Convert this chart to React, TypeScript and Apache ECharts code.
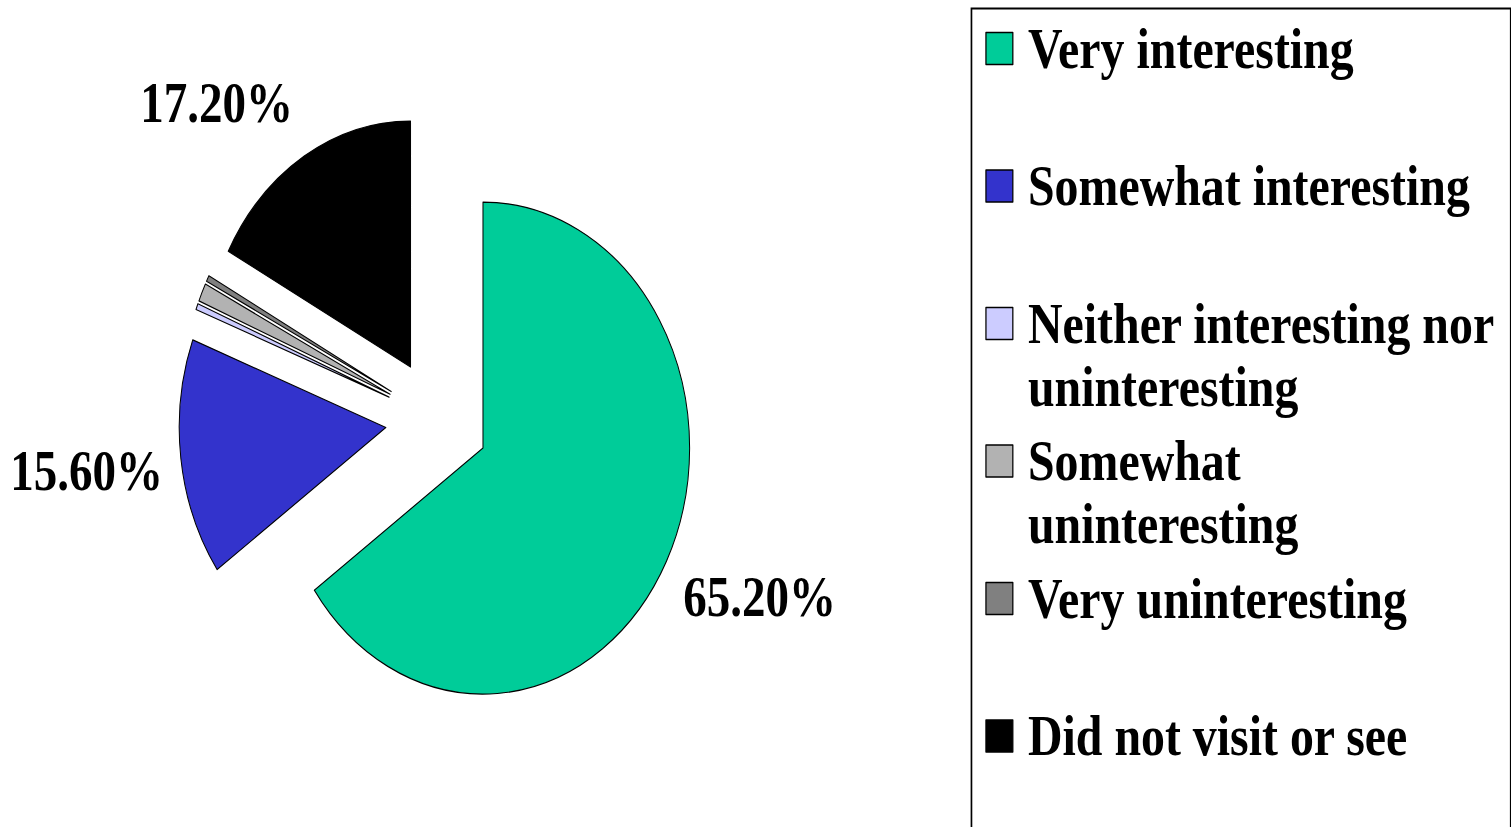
import React, { useEffect, useRef } from "react";
import * as echarts from "echarts";

// ---- data ----
const categories = [
  "Very interesting",
  "Somewhat interesting",
  "Neither interesting nor uninteresting",
  "Somewhat uninteresting",
  "Very uninteresting",
  "Did not visit or see",
];
const legendLabels = [
  "Very interesting",
  "Somewhat interesting",
  "Neither interesting nor\nuninteresting",
  "Somewhat\nuninteresting",
  "Very uninteresting",
  "Did not visit or see",
];
const values = [65.2, 15.6, 0.4, 1.2, 0.4, 17.2];
const showLabel = [true, true, false, false, false, true];
const colors = ["#00CC99", "#3333CC", "#CCCCFF", "#B2B2B2", "#808080", "#000000"];

// ---- layout (pre-squeeze coordinates) ----
const S = 0.84; // horizontal squeeze of the original picture
const W = 1511 / S;
const H = 827;
const labelLen = [78.6, 102, 0, 0, 0, 62];
const labelLen2 = [-55, -85, 0, 0, 0, -23.6];
const legendRowCenters = [48.5, 186, 323.5, 461, 598.5, 736];
const LH = 63;
const FONT = "'Liberation Serif', 'Times New Roman', serif";

function buildOption() {
  const data = categories.map((name, i) => ({
    name,
    value: values[i],
    selected: true,
    itemStyle: { color: colors[i] },
    select: { itemStyle: { color: colors[i], borderColor: "#000", borderWidth: 1.2 } },
    label: { show: showLabel[i], distanceToLabelLine: 5 },
    labelLine: { show: false, length: labelLen[i], length2: labelLen2[i] },
  }));

  const legends = categories.map((name, i) => {
    const twoLine = legendLabels[i].indexOf("\n") >= 0;
    return {
      data: [name],
      orient: "vertical",
      left: 1173,
      top: twoLine ? legendRowCenters[i] - 1.5 * LH : legendRowCenters[i] - LH / 2,
      padding: 0,
      itemWidth: 32,
      itemHeight: 32,
      icon: "rect",
      selectedMode: false,
      itemStyle: { borderColor: "#000", borderWidth: 1.5 },
      // a blank first line keeps the marker level with the first text line
      formatter: (n: string) => {
        const t = legendLabels[categories.indexOf(n)];
        return t.indexOf("\n") >= 0 ? " \n" + t : t;
      },
      textStyle: {
        fontFamily: FONT,
        fontWeight: "bold",
        fontSize: 57,
        lineHeight: LH,
        color: "#000",
        padding: [0, 0, 0, 13],
      },
    };
  });

  return {
    animation: false,
    backgroundColor: "#fff",
    legend: legends,
    graphic: [
      {
        type: "rect",
        left: 1154,
        top: 6,
        shape: { width: 642, height: 900 },
        style: { fill: "none", stroke: "#000", lineWidth: 2 },
        silent: true,
      },
    ],
    series: [
      {
        type: "pie",
        center: [437.1 / S, 419.8],
        radius: 246,
        startAngle: 90,
        clockwise: true,
        selectedMode: "multiple",
        selectedOffset: 61.5,
        avoidLabelOverlap: false,
        minShowLabelAngle: 0,
        itemStyle: { borderColor: "#000", borderWidth: 1.2 },
        emphasis: { disabled: true },
        label: {
          position: "outside",
          formatter: (p: any) => Number(p.value).toFixed(2) + "%",
          fontFamily: FONT,
          fontWeight: "bold",
          fontSize: 56,
          color: "#000",
        },
        data,
      },
    ],
  };
}

export default function App() {
  const ref = useRef<HTMLDivElement>(null);
  useEffect(() => {
    const chart = echarts.init(ref.current!, null, { renderer: "svg" });
    chart.setOption(buildOption() as any);
    return () => chart.dispose();
  }, []);
  return (
    <div
      style={{
        position: "fixed",
        left: 0,
        top: 0,
        width: 1511,
        height: 827,
        overflow: "hidden",
        background: "#fff",
      }}
    >
      <div
        ref={ref}
        style={{
          width: W,
          height: H,
          transform: `scaleX(${S})`,
          transformOrigin: "0 0",
        }}
      />
    </div>
  );
}
